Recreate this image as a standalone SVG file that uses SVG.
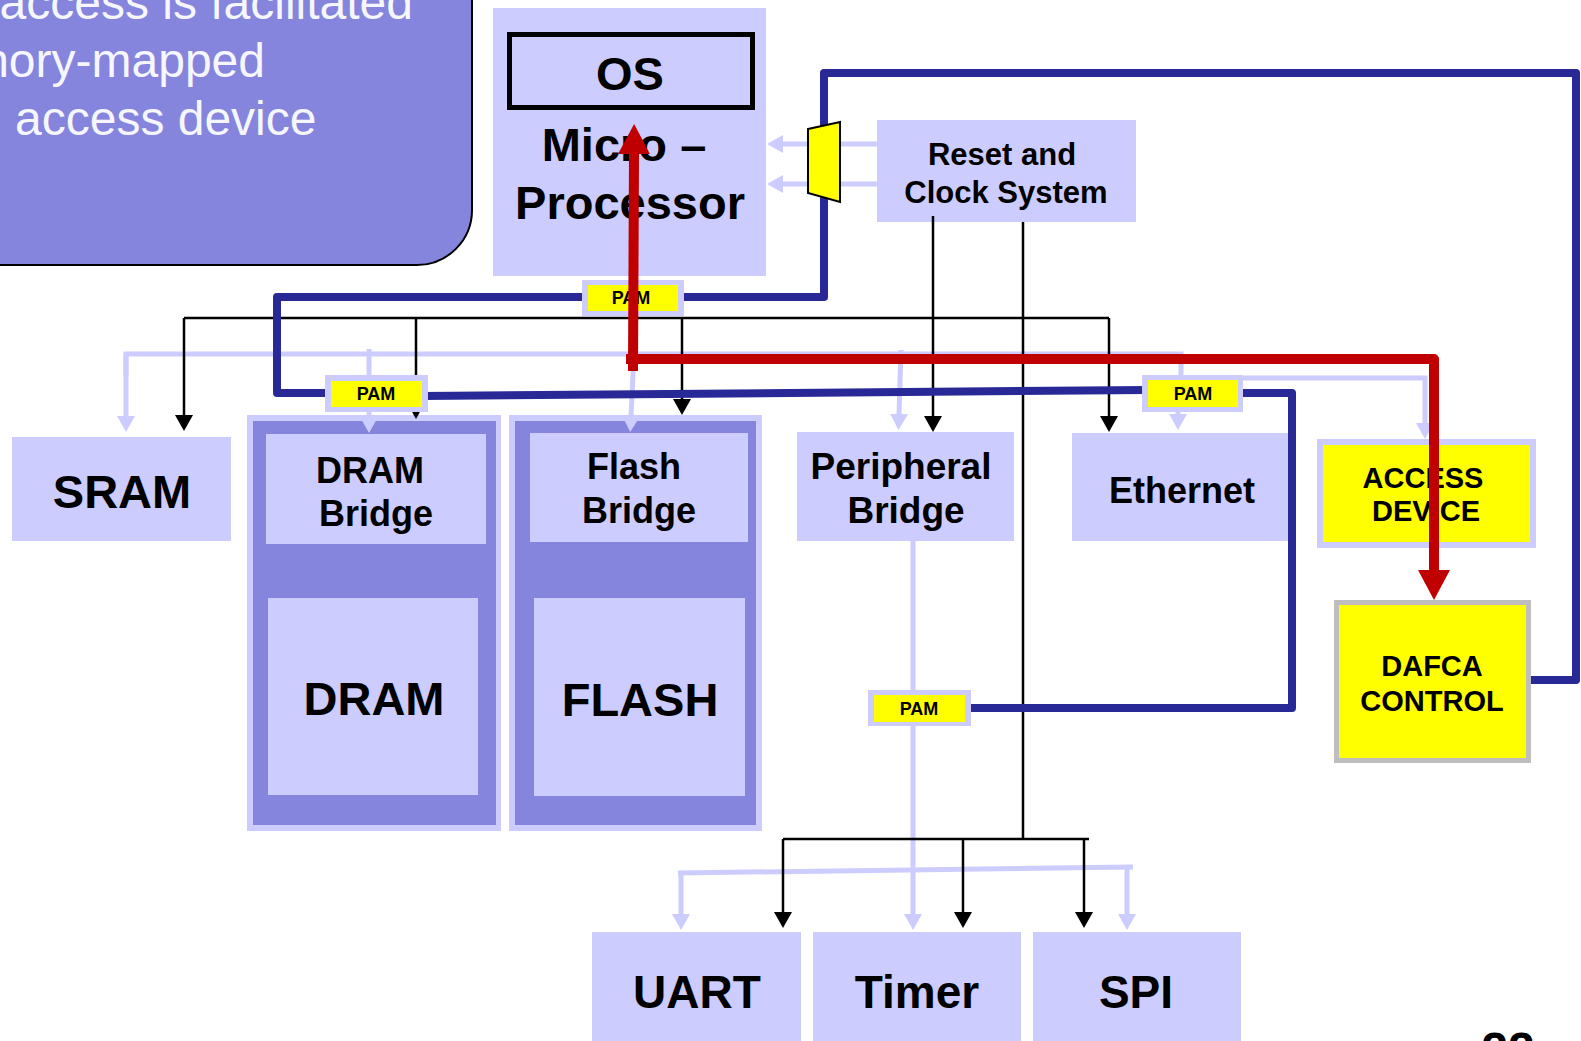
<svg xmlns="http://www.w3.org/2000/svg" width="1581" height="1041" viewBox="0 0 1581 1041">
<style>
.lt{fill:#CCCCFF}
.dk{fill:#8585DD}
.yl{fill:#FFFF00}
.t{font-family:"Liberation Sans",Arial,sans-serif;font-weight:bold;fill:#000;text-anchor:middle}
.ct{font-family:"Liberation Sans",Arial,sans-serif;fill:#F6F6FF;font-size:48px}
.lw{fill:none;stroke:#CCCCFF;stroke-width:5}
.bw{fill:none;stroke:#000;stroke-width:2.5}
.nv{fill:none;stroke:#282896;stroke-width:8;stroke-linejoin:round}
.rd{fill:none;stroke:#C00000;stroke-width:10;stroke-linejoin:round}
.pamo{fill:#CCCCFF}
.pamt{font-size:18px}
</style>
<defs>
<marker id="ab" markerUnits="userSpaceOnUse" viewBox="0 0 16 18" markerWidth="16" markerHeight="18" refX="0" refY="9" orient="auto"><path d="M0,0 L16,9 L0,18 Z" fill="#000"/></marker>
<marker id="al" markerUnits="userSpaceOnUse" viewBox="0 0 16 18" markerWidth="16" markerHeight="18" refX="0" refY="9" orient="auto"><path d="M0,0 L16,9 L0,18 Z" fill="#CCCCFF"/></marker>
<marker id="ar" markerUnits="userSpaceOnUse" viewBox="0 0 30 32" markerWidth="30" markerHeight="32" refX="0" refY="16" orient="auto"><path d="M0,0 L30,16 L0,32 Z" fill="#C00000"/></marker>
</defs>
<rect x="0" y="0" width="1581" height="1041" fill="#FFFFFF"/>

<g id="callout">
<path d="M-10,-10 L472,-10 L472,210 A55,55 0 0 1 417,265 L-10,265 Z" class="dk" stroke="#000" stroke-width="2"/>
<text class="ct" x="413" y="19" text-anchor="end">access is facilitated</text>
<text class="ct" x="265" y="77" text-anchor="end">nory-mapped</text>
<text class="ct" x="15" y="135">access device</text>
</g>

<g id="microprocessor">
<rect x="493" y="8" width="273" height="268" class="lt"/>
<rect x="509.5" y="34.5" width="243" height="73" fill="none" stroke="#000" stroke-width="5"/>
<text class="t" x="630" y="90" font-size="47">OS</text>
<text class="t" x="624" y="161" font-size="47">Micro –</text>
<text class="t" x="630" y="219" font-size="47">Processor</text>
</g>

<g id="reset-clock">
<rect x="877" y="120" width="259" height="102" class="lt"/>
<text class="t" x="1002" y="165" font-size="31">Reset and</text>
<text class="t" x="1006" y="203" font-size="31">Clock System</text>
</g>

<g id="sram">
<rect x="12" y="437" width="219" height="104" class="lt"/>
<text class="t" x="122" y="508" font-size="47">SRAM</text>
</g>

<g id="dram-group">
<rect x="247" y="415" width="254" height="416" class="lt"/>
<rect x="253" y="421" width="243" height="404" class="dk"/>
</g>
<g id="dram-bridge">
<rect x="266" y="434" width="220" height="110" class="lt"/>
<text class="t" x="370" y="483" font-size="36">DRAM</text>
<text class="t" x="376" y="526" font-size="36">Bridge</text>
</g>
<g id="dram">
<rect x="268" y="598" width="210" height="197" class="lt"/>
<text class="t" x="374" y="715" font-size="47">DRAM</text>
</g>

<g id="flash-group">
<rect x="509" y="415" width="253" height="416" class="lt"/>
<rect x="515" y="421" width="241" height="404" class="dk"/>
</g>
<g id="flash-bridge">
<rect x="530" y="433" width="218" height="109" class="lt"/>
<text class="t" x="634" y="479" font-size="36">Flash</text>
<text class="t" x="639" y="523" font-size="36">Bridge</text>
</g>
<g id="flash">
<rect x="534" y="598" width="211" height="198" class="lt"/>
<text class="t" x="640" y="716" font-size="47">FLASH</text>
</g>

<g id="peripheral-bridge">
<rect x="797" y="432" width="217" height="109" class="lt"/>
<text class="t" x="901" y="479" font-size="37">Peripheral</text>
<text class="t" x="906" y="523" font-size="37">Bridge</text>
</g>

<g id="ethernet">
<rect x="1072" y="433" width="216" height="108" class="lt"/>
<text class="t" x="1182" y="503" font-size="36">Ethernet</text>
</g>

<g id="access-device">
<rect x="1317" y="439" width="219" height="109" class="lt"/>
<rect x="1323" y="445" width="207" height="97" class="yl"/>
<text class="t" x="1423" y="488" font-size="29">ACCESS</text>
<text class="t" x="1426" y="521" font-size="29">DEVICE</text>
</g>

<g id="dafca-control">
<rect x="1336.5" y="602.5" width="192" height="158" class="yl" stroke="#BEBEBE" stroke-width="5"/>
<text class="t" x="1432" y="676" font-size="29">DAFCA</text>
<text class="t" x="1432" y="711" font-size="29">CONTROL</text>
</g>

<g id="uart">
<rect x="592" y="932" width="209" height="115" class="lt"/>
<text class="t" x="697" y="1008" font-size="46">UART</text>
</g>
<g id="timer">
<rect x="813" y="932" width="208" height="115" class="lt"/>
<text class="t" x="917" y="1008" font-size="46">Timer</text>
</g>
<g id="spi">
<rect x="1033" y="932" width="208" height="115" class="lt"/>
<text class="t" x="1136" y="1008" font-size="46">SPI</text>
</g>

<g id="connectors">
<g id="light-wires">
<path class="lw" d="M877,144 L783,144" marker-end="url(#al)"/>
<path class="lw" d="M877,184 L783,184" marker-end="url(#al)"/>
<path class="lw" d="M126,376 L126,354 L1181,354 L1181,378 L1425,378 L1425,423" marker-end="url(#al)"/>
<path class="lw" d="M126,354 L126,416" marker-end="url(#al)"/>
<path class="lw" d="M369,349 L369,417" marker-end="url(#al)"/>
<path class="lw" d="M634,354 L631,416" marker-end="url(#al)"/>
<path class="lw" d="M901,350 L899,414" marker-end="url(#al)"/>
<path class="lw" d="M1178,378 L1178,414" marker-end="url(#al)"/>
<path class="lw" d="M913,541 L913,914" marker-end="url(#al)"/>
<path class="lw" d="M678,873 L1133,867"/>
<path class="lw" d="M681,873 L681,914" marker-end="url(#al)"/>
<path class="lw" d="M1127,867 L1127,914" marker-end="url(#al)"/>
</g>
<g id="black-wires">
<path class="bw" d="M184,318 L1109,318"/>
<path class="bw" d="M184,318 L184,415" marker-end="url(#ab)"/>
<path class="bw" d="M416,318 L416,403" marker-end="url(#ab)"/>
<path class="bw" d="M682,318 L682,399" marker-end="url(#ab)"/>
<path class="bw" d="M1109,318 L1109,416" marker-end="url(#ab)"/>
<path class="bw" d="M933,216 L933,416" marker-end="url(#ab)"/>
<path class="bw" d="M1023,222 L1023,839"/>
<path class="bw" d="M783,839 L1089,839"/>
<path class="bw" d="M783,839 L783,912" marker-end="url(#ab)"/>
<path class="bw" d="M963,839 L963,912" marker-end="url(#ab)"/>
<path class="bw" d="M1084,839 L1084,912" marker-end="url(#ab)"/>
</g>
<g id="debug-wires">
<path class="nv" d="M824,135 L824,73 L1576,73 L1576,680 L1531,680"/>
<path class="nv" d="M824,190 L824,297 L684,297"/>
<path class="nv" d="M582,297 L277,297 L277,393 L330,393"/>
<path class="nv" d="M422,396 L1148,390"/>
<path class="nv" d="M1238,393 L1292,393 L1292,708 L965,708"/>
</g>
</g>

<g id="pam-top">
<rect x="582" y="280" width="102" height="36" class="pamo"/>
<rect x="588" y="285" width="90" height="26" class="yl"/>
<text class="t pamt" x="631" y="304">PAM</text>
</g>
<g id="pam-dram">
<rect x="325" y="375" width="103" height="37" class="pamo"/>
<rect x="331" y="381" width="91" height="26" class="yl"/>
<text class="t pamt" x="376" y="400">PAM</text>
</g>
<g id="pam-ethernet">
<rect x="1142" y="375" width="101" height="37" class="pamo"/>
<rect x="1148" y="380" width="90" height="27" class="yl"/>
<text class="t pamt" x="1193" y="400">PAM</text>
</g>
<g id="pam-peripheral">
<rect x="868" y="690" width="103" height="36" class="pamo"/>
<rect x="874" y="695" width="91" height="27" class="yl"/>
<text class="t pamt" x="919" y="715">PAM</text>
</g>
<g id="clock-mux">
<path d="M808,129 L840,122 L840,202 L808,193 Z" class="yl" stroke="#000" stroke-width="2"/>
</g>

<g id="highlight-connectors">
<path class="rd" d="M633,371 L634,154" marker-end="url(#ar)"/>
<path class="rd" d="M626,359 L1434,359 L1434,570" marker-end="url(#ar)"/>
</g>

<text class="t" x="1508" y="1066" font-size="48">22</text>
</svg>
